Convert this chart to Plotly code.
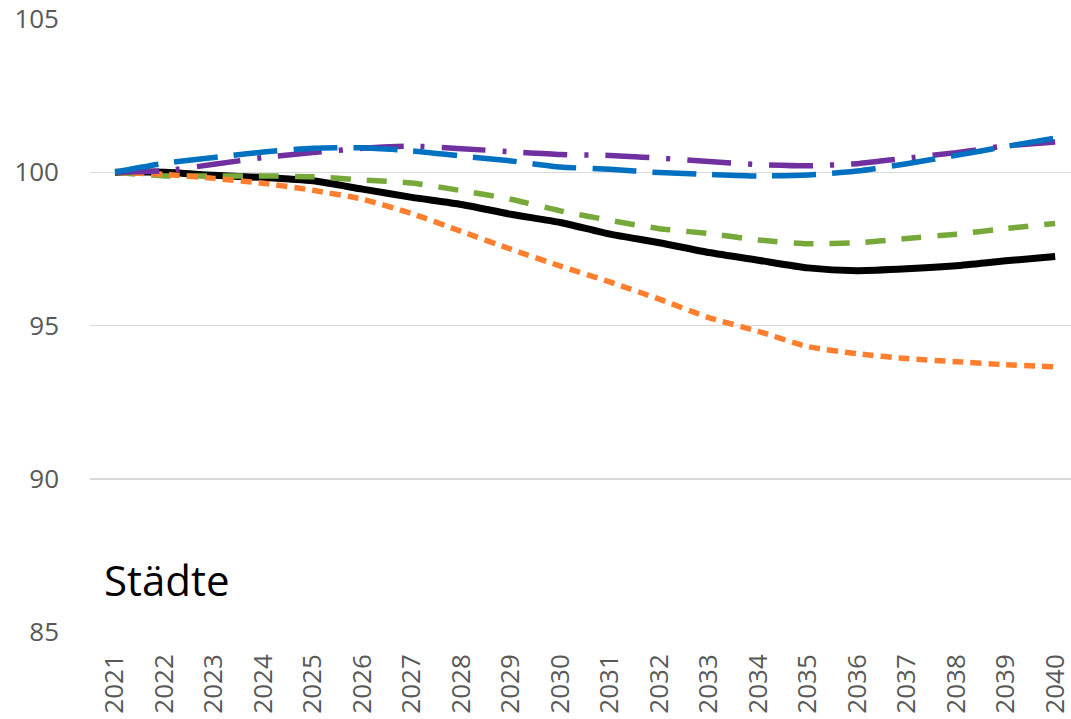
import plotly.graph_objects as go

years = list(range(2021, 2041))
tick_labels = [str(y) for y in years]

black_vals = [100, 100.0, 99.9, 99.83, 99.72, 99.45, 99.18, 98.95, 98.63, 98.36,
              97.98, 97.7, 97.38, 97.13, 96.88, 96.79, 96.85, 96.95, 97.11, 97.25]
orange_vals = [100, 99.93, 99.8, 99.64, 99.41, 99.12, 98.65, 98.07, 97.49, 96.94,
               96.42, 95.86, 95.26, 94.81, 94.31, 94.08, 93.92, 93.82, 93.72, 93.65]
green_vals = [100, 99.88, 99.88, 99.88, 99.85, 99.75, 99.65, 99.4, 99.12, 98.74,
              98.43, 98.16, 98.0, 97.79, 97.67, 97.7, 97.84, 97.98, 98.16, 98.33]
blue_vals = [100, 100.29, 100.48, 100.66, 100.78, 100.8, 100.7, 100.53, 100.37, 100.17,
             100.1, 99.99, 99.93, 99.88, 99.91, 100.04, 100.28, 100.55, 100.84, 101.11]
purple_vals = [100, 100.05, 100.26, 100.48, 100.64, 100.78, 100.85, 100.77, 100.67, 100.58,
               100.55, 100.46, 100.35, 100.25, 100.21, 100.28, 100.46, 100.64, 100.86, 100.99]

series = [
    ("black", black_vals, "#000000", 7, "solid"),
    ("green", green_vals, "#77A83A", 5.5, "20px,16px"),
    ("orange", orange_vals, "#FF7F2E", 5.5, "11px,7px"),
    ("purple", purple_vals, "#7030A0", 5.5, "44px,17px,4px,17px"),
    ("blue", blue_vals, "#0070C0", 5.5, "44px,16px"),
]

fig = go.Figure()
for name, vals, color, w, dash in series:
    fig.add_trace(go.Scatter(
        x=years, y=vals, mode="lines", name=name,
        line=dict(color=color, width=w, dash=dash, shape="spline", smoothing=0.6),
        showlegend=False, hoverinfo="skip",
    ))

fig.add_annotation(
    text="Städte", xref="paper", yref="paper", x=0.012, y=0.085,
    xanchor="left", yanchor="middle", showarrow=False,
    font=dict(family="Open Sans", size=42, color="#000000"),
)

fig.update_layout(
    width=1071, height=719,
    margin=dict(l=90, r=0, t=19, b=87, autoexpand=False),
    plot_bgcolor="white", paper_bgcolor="white",
    font=dict(family="Open Sans", size=26, color="#595959"),
)
fig.update_xaxes(
    range=[2020.495, 2040.32], tickmode="array", tickvals=years, ticktext=tick_labels,
    tickangle=-90, showgrid=False, zeroline=False, showline=False, ticks="",
    ticklabelstandoff=16, ticklabeloverflow="allow", automargin=False,
    tickfont=dict(size=26, color="#595959"),
)
fig.update_yaxes(
    range=[85, 105], tickmode="array", tickvals=[85, 90, 95, 100, 105],
    showgrid=True, gridcolor="#D9D9D9", gridwidth=1.5, zeroline=False, showline=False,
    ticks="", ticklabelstandoff=30, automargin=False, ticklabeloverflow="allow",
    tickfont=dict(size=26, color="#595959"),
)

fig.write_html(
    "out.html",
    config={"displayModeBar": False, "staticPlot": True},
    post_script="document.body.style.margin='0';document.body.style.overflow='hidden';",
)
